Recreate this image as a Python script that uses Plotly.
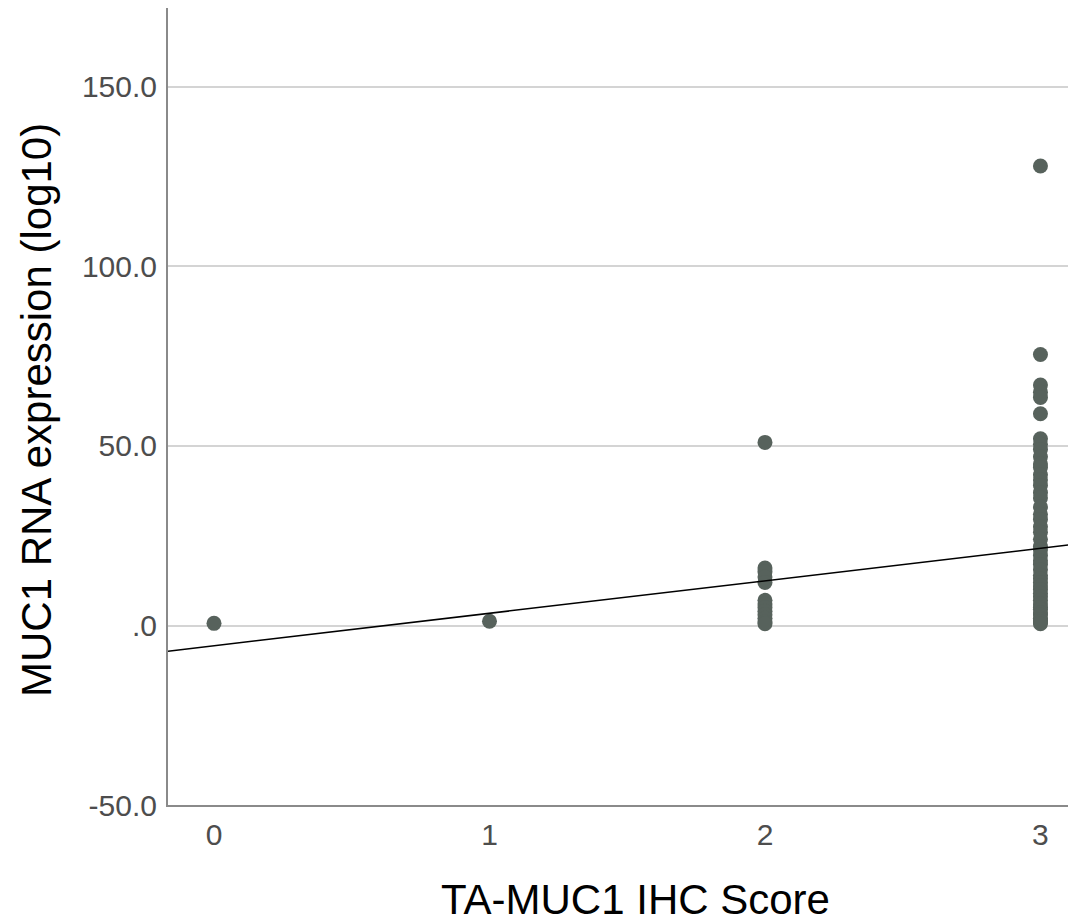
import plotly.graph_objects as go

# Data
score_0 = [0.6]
score_1 = [1.2]
score_2 = [51.0, 16.0, 15.0, 13.5, 12.0, 7.0, 6.0, 5.0, 4.0, 3.0, 2.0, 1.0, 0.5]
score_3 = [128.0, 75.5, 67.0, 65.0, 63.5, 59.0, 52.0, 50.5, 49.0, 47.0, 45.0, 44.0,
           42.0, 40.5, 39.0, 37.0, 35.5, 33.0, 31.0, 29.5, 27.5, 26.0, 24.0, 22.0,
           21.0, 19.5, 18.0, 17.0, 15.5, 14.0, 13.0, 12.0, 11.0, 10.0, 9.0, 8.0,
           7.0, 6.0, 5.0, 4.5, 3.5, 3.0, 2.0, 1.5, 1.0, 0.5]

fit_intercept = -5.65
fit_slope = 9.05

x_tick_vals = [0, 1, 2, 3]
x_tick_text = ["0", "1", "2", "3"]
y_tick_vals = [-50, 0, 50, 100, 150]
y_tick_text = ["-50.0", ".0", "50.0", "100.0", "150.0"]

x_title = "TA-MUC1 IHC Score"
y_title = "MUC1 RNA expression (log10)"

x_range = [-0.167, 3.129]
y_range = [-50, 172]

xs, ys = [], []
for score, vals in [(0, score_0), (1, score_1), (2, score_2), (3, score_3)]:
    xs += [score] * len(vals)
    ys += vals

point_color = "#57625c"
font_family = "Liberation Sans, Arial, sans-serif"

# The page body has an 8px default margin, so the figure is drawn 8px in.
OFF = 8
W, H = 1076 - OFF, 921 - OFF
ML, MR, MT, MB = 168 - OFF, 0, 8 - OFF, 116
plot_w = W - ML - MR
plot_h = H - MT - MB
plot_bottom_page = OFF + H - MB  # 805 in page pixels

fig = go.Figure()
fig.add_trace(go.Scatter(
    x=xs, y=ys, mode="markers",
    marker=dict(size=15, color=point_color, line=dict(width=0)),
    showlegend=False, cliponaxis=True,
))
fig.add_trace(go.Scatter(
    x=x_range, y=[fit_intercept + fit_slope * v for v in x_range],
    mode="lines", line=dict(color="black", width=1.5),
    showlegend=False,
))

fig.update_layout(
    width=W, height=H,
    margin=dict(l=ML, r=MR, t=MT, b=MB, pad=0),
    plot_bgcolor="white", paper_bgcolor="white",
    font=dict(family=font_family),
    xaxis=dict(
        range=x_range, tickvals=x_tick_vals, ticktext=x_tick_text,
        showgrid=False, zeroline=False, automargin=False,
        showline=True, linecolor="#8a8a8a", linewidth=2,
        ticks="", ticklabelstandoff=2,
        tickfont=dict(size=30, color="#4d4d4d", family=font_family),
    ),
    yaxis=dict(
        range=y_range, tickvals=y_tick_vals, ticktext=y_tick_text,
        showgrid=True, gridcolor="#d4d4d4", gridwidth=2,
        zeroline=False, automargin=False,
        showline=True, linecolor="#8a8a8a", linewidth=2,
        ticks="", ticklabelstandoff=3,
        tickfont=dict(size=30, color="#4d4d4d", family=font_family),
    ),
    annotations=[
        dict(text=x_title, xref="paper", yref="paper",
             x=(635 - OFF - ML) / plot_w, y=0, yanchor="middle",
             yshift=-(899 - plot_bottom_page),
             showarrow=False, font=dict(size=42, color="black", family=font_family)),
        dict(text=y_title, xref="paper", yref="paper", textangle=-90,
             x=0, xanchor="center", xshift=-(ML + OFF - 37),
             y=(plot_bottom_page - 410) / plot_h, yanchor="middle",
             showarrow=False, font=dict(size=42, color="black", family=font_family)),
    ],
)

fig.write_html("out.html")
